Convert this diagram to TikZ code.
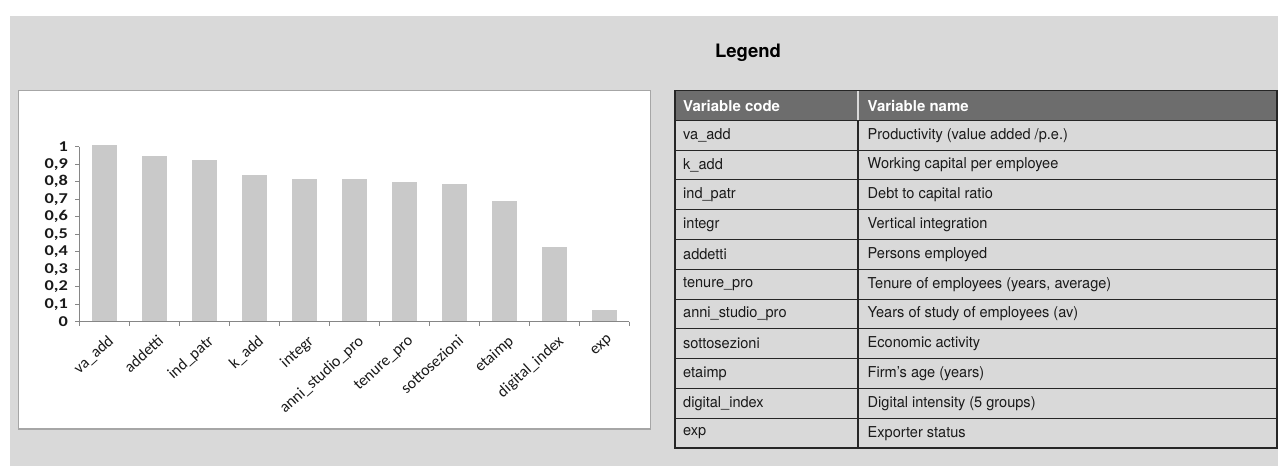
\documentclass[tikz,border=0pt]{standalone}
\usepackage{fontspec}
\setmainfont{TeX Gyre Heros}
\newfontfamily\calib{Carlito}
\newfontfamily\calibwide{Carlito}[FakeStretch=1.22]
\definecolor{bggray}{HTML}{D9D9D9}
\definecolor{boxline}{HTML}{A6A6A6}
\definecolor{barfill}{HTML}{C9C9C9}
\definecolor{axisgray}{HTML}{868686}
\definecolor{headfill}{HTML}{6D6D6D}
\definecolor{txt}{HTML}{1A1A1A}
\tikzset{
  barstyle/.style={fill=barfill},
  ylab/.style={anchor=east, inner sep=0pt, font=\calibwide\bfseries\fontsize{15}{16}\selectfont, text=txt},
  xlab/.style={anchor=north east, inner sep=0pt, rotate=42, font=\calib\fontsize{16}{17}\selectfont, text=txt},
  cell/.style={anchor=west, inner sep=0pt, font=\addfontfeatures{FakeStretch=0.97}\fontsize{15}{17}\selectfont, text=txt},
  headcell/.style={anchor=west, inner sep=0pt, font=\bfseries\fontsize{15}{17}\selectfont, text=white},
}
\begin{document}
\begin{tikzpicture}[x=1pt,y=-1pt]
\useasboundingbox (0,0) rectangle (1278,466);
\fill[bggray] (10,16) rectangle (1278,466);
% chart box
\draw[boxline, fill=white, line width=1.6pt] (18.5,90.5) rectangle (650.5,429);
% bars
\foreach \i/\t/\n in {0/145/va_add,1/155.5/addetti,2/160/ind_patr,3/174.7/k_add,4/179/integr,5/179/anni_studio_pro,6/182/tenure_pro,7/184/sottosezioni,8/201/etaimp,9/247/digital_index,10/309.5/exp}{
  \pgfmathsetmacro{\cx}{104+50*\i}
  \fill[barstyle] (\cx-12.5,\t) rectangle (\cx+12.5,321.7);
  \node[xlab] (xl\i) at (\cx+3,334) {\detokenize\expandafter{\n}};
}
% axes
\draw[axisgray, line width=0.9pt] (79,146.7) -- (79,321.7) -- (629,321.7);
\foreach \k in {0,...,10}{
  \pgfmathsetmacro{\yy}{321.7-17.5*\k}
  \draw[axisgray, line width=0.9pt] (75,\yy) -- (79,\yy);
  \ifnum\k=0 \def\lab{0}\else\ifnum\k=10 \def\lab{1}\else\edef\lab{0,\k}\fi\fi
  \node[ylab] (yl\k) at (68,\yy) {\lab};
}
\foreach \i in {0,...,11}{
  \draw[axisgray, line width=0.9pt] (79+50*\i,321.7) -- (79+50*\i,326);
}
% legend title
\node[font=\bfseries\fontsize{18.5}{20}\selectfont, text=black] (legend) at (748,53) {Legend};
% table
\fill[headfill] (675,90.7) rectangle (1277,120.3);
\foreach \r in {1,...,11}{
  \draw[black!85, line width=1.1pt] (675,{120.3+29.8*\r}) -- (1277,{120.3+29.8*\r});
}
\draw[black!85, line width=1.1pt] (675,120.3) -- (1277,120.3);
\draw[white!85!black, line width=1.1pt] (858,90.7) -- (858,120.3);
\draw[black!85, line width=1.1pt] (858,120.3) -- (858,448.1);
\draw[black!85, line width=1.3pt] (675,90.7) rectangle (1277,448.1);
\node[headcell] (h1) at (683,105.5) {Variable code};
\node[headcell] (h2) at (867.5,105.5) {Variable name};
\foreach \r/\a/\b in {1/va_add/{Productivity (value added /p.e.)},
  2/k_add/{Working capital per employee},
  3/ind_patr/{Debt to capital ratio},
  4/integr/{Vertical integration},
  5/addetti/{Persons employed},
  6/tenure_pro/{Tenure of employees (years, average)},
  7/anni_studio_pro/{Years of study of employees (av)},
  8/sottosezioni/{Economic activity},
  9/etaimp/{Firm’s age (years)},
  10/digital_index/{Digital intensity (5 groups)},
  11/exp/{Exporter status}}{
  \node[cell] (ca\r) at (683,{120.3+29.8*\r-14.9}) {\detokenize\expandafter{\a}};
  \node[cell] (cb\r) at (867.5,{120.3+29.8*\r-14.9}) {\b};
}
\end{tikzpicture}
\end{document}
